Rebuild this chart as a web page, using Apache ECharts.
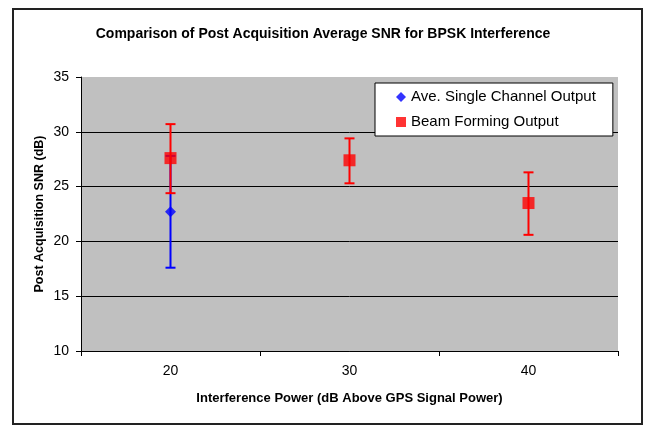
<!DOCTYPE html>
<html><head><meta charset="utf-8">
<script src="https://cdn.jsdelivr.net/npm/echarts@6/dist/echarts.min.js"></script>
<style>html,body{margin:0;padding:0;background:#fff}#c{width:646px;height:426px}</style>
</head><body><div id="c"></div>
<script>
var categories = ['20', '30', '40'];
var singleMean = [22.7, null, null];
var singleLow = [17.6, null, null];
var singleHigh = [27.8, null, null];
var beamMean = [27.6, 27.4, 23.5];
var beamLow = [24.4, 25.3, 20.6];
var beamHigh = [30.7, 29.4, 26.3];
var yTicks = [10, 15, 20, 25, 30, 35];

var FONT = '"Liberation Sans", Arial, sans-serif';

function errData(low, high) {
  var out = [];
  for (var i = 0; i < categories.length; i++) {
    if (low[i] != null) out.push([i, low[i], high[i]]);
  }
  return out;
}
function errRender(color) {
  return function (params, api) {
    var x = api.value(0);
    var lo = api.coord([x, api.value(1)]);
    var hi = api.coord([x, api.value(2)]);
    var hw = 5;
    var st = { stroke: color, lineWidth: 2 };
    return {
      type: 'group',
      children: [
        { type: 'line', shape: { x1: lo[0], y1: lo[1], x2: hi[0], y2: hi[1] }, style: st },
        { type: 'line', shape: { x1: lo[0] - hw, y1: lo[1], x2: lo[0] + hw, y2: lo[1] }, style: st },
        { type: 'line', shape: { x1: hi[0] - hw, y1: hi[1], x2: hi[0] + hw, y2: hi[1] }, style: st }
      ]
    };
  };
}

var chart = echarts.init(document.getElementById('c'), null, { renderer: 'canvas' });
chart.setOption({
  animation: false,
  backgroundColor: '#ffffff',
  textStyle: { fontFamily: FONT },
  title: {
    text: 'Comparison of Post Acquisition Average SNR for BPSK Interference',
    left: 'center', top: 22,
    textStyle: { fontFamily: FONT, fontSize: 14, fontWeight: 'bold', color: '#000' }
  },
  graphic: [{
    type: 'rect', shape: { x: 13, y: 9, width: 629, height: 415 },
    style: { fill: null, stroke: '#222', lineWidth: 2 }, silent: true, z: 100
  }],
  legend: {
    orient: 'vertical', left: 375, top: 83,
    backgroundColor: '#fff', borderColor: '#000', borderWidth: 1, borderRadius: 0,
    padding: [6, 17, 6, 21],
    itemWidth: 10, itemHeight: 10, itemGap: 9,
    textStyle: { fontFamily: FONT, fontSize: 15, color: '#000', lineHeight: 16 },
    data: [
      { name: 'Ave. Single Channel Output', icon: 'diamond' },
      { name: 'Beam Forming Output', icon: 'rect' }
    ]
  },
  grid: {
    left: 81, right: 28, top: 77, bottom: 75,
    show: true, backgroundColor: '#c0c0c0', borderWidth: 0
  },
  xAxis: {
    type: 'category', data: categories, boundaryGap: true,
    name: 'Interference Power (dB Above GPS Signal Power)',
    nameLocation: 'middle', nameGap: 41,
    nameTextStyle: { fontFamily: FONT, fontSize: 13, fontWeight: 'bold', color: '#000' },
    axisLine: { show: true, lineStyle: { color: '#000', width: 1 } },
    axisTick: { show: true, length: 5, inside: false, alignWithLabel: false, lineStyle: { color: '#000' } },
    axisLabel: { fontFamily: FONT, fontSize: 14, color: '#000', margin: 13 },
    splitLine: { show: false }
  },
  yAxis: {
    type: 'value', min: yTicks[0], max: yTicks[yTicks.length - 1], interval: 5,
    name: 'Post Acquisition SNR (dB)',
    nameLocation: 'middle', nameGap: 35, nameRotate: 90, nameMoveOverlap: false,
    nameTextStyle: { fontFamily: FONT, fontSize: 12.5, fontWeight: 'bold', color: '#000' },
    axisLine: { show: true, lineStyle: { color: '#000', width: 1 } },
    axisTick: { show: true, length: 5, inside: false, lineStyle: { color: '#000' } },
    axisLabel: { fontFamily: FONT, fontSize: 14, color: '#000', margin: 12 },
    splitLine: { show: true, showMaxLine: false, lineStyle: { color: '#000', width: 1 } }
  },
  series: [
    {
      type: 'custom', name: 'singleErr', renderItem: errRender('#0000ff'),
      data: errData(singleLow, singleHigh), z: 2
    },
    {
      type: 'scatter', name: 'Ave. Single Channel Output', symbol: 'diamond', symbolSize: 11,
      itemStyle: { color: '#0000ff' }, data: singleMean, z: 3
    },
    {
      type: 'custom', name: 'beamErr', renderItem: errRender('#ff0000'),
      data: errData(beamLow, beamHigh), z: 4
    },
    {
      type: 'scatter', name: 'Beam Forming Output', symbol: 'rect', symbolSize: 12,
      itemStyle: { color: '#ff0000' }, data: beamMean, z: 5
    }
  ]
});
</script></body></html>
